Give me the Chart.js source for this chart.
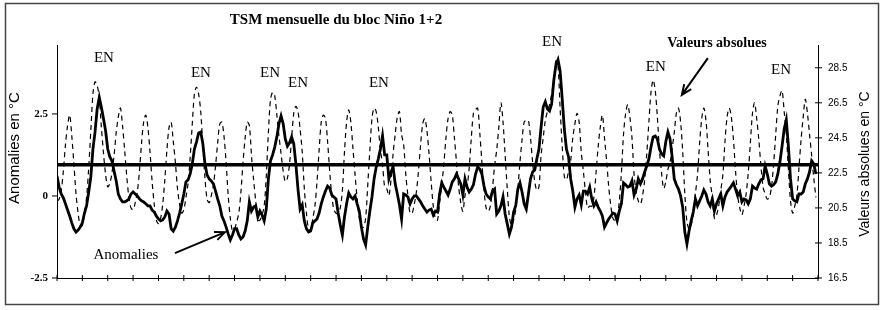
<!DOCTYPE html>
<html>
<head>
<meta charset="utf-8">
<script src="https://cdn.jsdelivr.net/npm/chart.js@4.4.0/dist/chart.umd.min.js"></script>
<style>
  html, body { margin: 0; padding: 0; background: #fff; }
  #wrap { position: relative; width: 882px; height: 310px; }
</style>
</head>
<body>
<div id="wrap"><canvas id="tsmChart" width="882" height="310"></canvas></div>
<script>
// Anomalies mensuelles (axe gauche, °C), 30 ans x 12 mois
const anomalies = [
  0.61,0.27,0.06,-0.06,-0.24,-0.43,-0.61,-0.82,-1.0,-1.1,-1.04,-0.95,
  -0.82,-0.52,-0.3,0.12,0.58,1.43,1.95,2.65,3.0,2.7,2.35,1.98,
  1.43,1.19,1.07,0.76,0.46,0.06,-0.09,-0.18,-0.18,-0.15,-0.09,0.06,
  0.12,0.06,0,-0.09,-0.15,-0.18,-0.24,-0.3,-0.3,-0.43,-0.49,-0.61,
  -0.7,-0.76,-0.73,-0.64,-0.46,-0.55,-1.0,-1.07,-0.95,-0.76,-0.52,-0.24,
  0.06,0.43,0.49,0.67,0.98,1.43,1.65,1.92,1.95,1.59,0.98,0.64,
  0.52,0.46,0.37,0.15,-0.09,-0.3,-0.61,-0.76,-0.95,-1.16,-1.34,-1.19,
  -1.0,-1.0,-1.19,-1.31,-1.25,-1.07,-0.76,-0.18,-0.46,-0.34,-0.3,-0.64,
  -0.46,-0.58,-0.76,-0.4,0.52,1.07,1.25,1.49,1.8,2.2,2.44,2.2,
  1.74,1.52,1.62,1.8,1.59,0.98,0.21,-0.4,-0.27,-0.76,-1.0,-1.1,
  -1.07,-0.82,-0.76,-0.7,-0.52,-0.24,-0.03,0.15,0.3,0.24,0.03,-0.03,
  -0.09,-0.52,-0.88,-1.19,-0.64,-0.24,0.09,-0.03,-0.09,0,-0.24,-0.46,
  -0.95,-1.31,-1.49,-0.95,-0.46,-0.03,0.52,0.88,1.13,1.43,1.83,1.25,
  1.25,0.52,0.73,0.88,0.37,0.06,-0.27,-0.7,0.06,0.03,-0.03,-0.24,
  -0.09,0,0,-0.09,-0.18,-0.3,-0.4,-0.49,-0.43,-0.4,-0.58,-0.46,
  -0.49,0.06,0.4,0.27,0.15,0.03,0.21,0.43,0.52,0.67,0.52,0.37,
  0.03,0.52,0.27,0.12,0.21,0.34,0.67,0.88,0.82,0.67,0.3,0.06,
  -0.03,-0.09,0.15,0.21,-0.55,-0.46,-0.3,-0.03,-0.55,-0.85,-1.16,-0.95,
  -0.49,-0.3,0.21,0.4,0.12,-0.24,-0.4,0.06,0.52,0.73,0.79,1.13,
  1.43,2.1,2.71,2.87,2.65,2.59,2.8,3.51,3.99,4.15,3.81,2.96,
  2.04,1.43,1.19,0.52,0.15,-0.34,-0.09,0.03,-0.27,0.15,0.15,0.06,
  0.27,-0.09,-0.3,-0.18,-0.34,-0.46,-0.61,-0.95,-0.82,-0.7,-0.61,-0.52,
  -0.55,-0.76,-0.46,-0.24,0.4,0.34,0.27,0.3,0.46,0.03,0.21,0.52,
  0.37,0.52,0.73,0.91,1.13,1.49,1.8,1.83,1.74,1.43,1.28,1.22,
  1.65,1.95,1.74,1.19,0.52,0.34,0.21,0,-0.34,-1.1,-1.46,-1.07,
  -0.76,-0.49,-0.09,-0.3,-0.15,0,0.18,0.06,-0.18,-0.3,-0.09,-0.46,
  -0.24,-0.09,0.06,-0.3,-0.03,0.12,0.21,0.3,0.4,0.21,0,0.12,
  -0.18,-0.09,-0.12,-0.24,-0.09,0.3,0.24,0.21,0.37,0.49,0.52,0.91,
  0.67,0.37,0.3,0.34,0.43,0.67,1.04,1.52,2.04,2.32,1.52,0.52,
  -0.09,-0.15,-0.18,0.06,0.06,0.12,0.37,0.52,0.73,1.07,0.98,0.67
];

// Valeurs absolues mensuelles (axe droit, °C)
const absolues = [
  20.9,21.0,21.5,22.6,24.1,25.2,25.8,24.6,23.0,21.3,20.2,19.5,
  19.5,20.2,21.1,22.8,24.9,27.0,27.7,27.5,26.8,25.1,23.6,22.4,
  21.7,21.9,22.5,23.5,24.8,25.7,26.2,25.2,23.8,22.3,21.1,20.5,
  20.4,20.8,21.4,22.6,24.2,25.4,25.8,25.1,23.7,22.0,20.7,19.8,
  19.6,19.9,20.7,22.1,23.8,25.1,25.4,24.3,23.1,21.6,20.7,20.2,
  20.4,21.1,21.9,23.4,25.3,27.0,27.4,27.0,26.0,24.0,22.2,21.0,
  20.8,21.2,21.8,22.9,24.2,25.3,25.4,24.6,23.1,21.2,19.9,19.2,
  19.3,19.7,20.2,21.4,23.1,24.5,25.4,25.2,23.5,22.1,20.9,19.8,
  19.8,20.1,20.6,22.3,24.8,26.7,27.1,26.9,25.8,24.6,23.6,22.6,
  22.0,22.2,23.0,24.5,25.9,26.3,26.0,25.0,23.7,21.6,20.2,19.3,
  19.2,19.9,20.6,22.0,23.8,25.4,25.8,25.6,24.3,22.6,21.2,20.4,
  20.2,20.2,20.5,21.5,23.7,25.4,26.1,25.4,23.9,22.4,21.0,19.9,
  19.4,19.4,19.9,21.8,23.8,25.6,26.2,26.0,25.1,23.8,23.0,21.7,
  21.6,21.2,22.1,23.6,24.7,25.7,26.0,24.7,24.1,22.4,21.2,20.2,
  20.2,20.7,21.4,22.6,24.1,25.3,25.6,24.9,23.6,22.0,20.6,19.9,
  19.8,20.8,21.8,23.0,24.5,25.6,26.0,25.8,24.5,23.1,21.7,20.8,
  20.3,21.2,21.7,22.8,24.5,25.9,26.1,26.2,24.8,23.1,21.5,20.5,
  20.3,20.6,21.6,22.9,23.8,25.1,26.5,25.4,23.5,21.6,20.0,19.5,
  19.8,20.4,21.6,23.1,24.4,25.4,25.5,25.5,24.5,23.1,22.0,21.5,
  21.7,23.5,24.5,25.5,26.0,26.4,27.0,27.8,28.9,28.6,26.2,24.0,
  22.3,22.1,22.6,23.2,24.5,25.3,25.9,25.4,23.7,22.6,21.4,20.5,
  20.6,20.6,21.1,22.5,24.0,25.1,25.8,24.5,23.2,21.7,20.6,19.9,
  19.8,19.9,20.9,22.5,24.7,25.9,26.4,25.7,24.5,22.4,21.4,20.9,
  20.7,21.2,22.1,23.6,25.4,27.1,27.8,27.2,25.7,23.8,22.5,21.6,
  22.0,22.7,23.1,23.9,24.8,25.9,26.2,25.4,23.7,21.3,19.7,19.3,
  19.5,20.2,21.3,22.4,24.2,25.6,26.2,25.5,23.8,22.1,21.1,19.9,
  20.1,20.6,21.5,22.4,24.3,25.7,26.2,25.7,24.4,22.6,21.2,20.5,
  20.1,20.6,21.3,22.5,24.2,25.9,26.5,25.6,24.4,22.9,21.7,21.3,
  21.0,21.1,21.7,23.0,24.7,26.3,26.9,27.2,26.0,24.7,22.7,20.9,
  20.2,20.6,21.2,22.8,24.4,25.7,26.7,25.9,24.7,23.5,22.2,21.1
];

const seuil = 0.95; // trait horizontal épais (axe gauche)
const leftTicks = [-2.5, 0, 2.5];
const rightTicks = [16.5, 18.5, 20.5, 22.5, 24.5, 26.5, 28.5];
const yearTicks = [0,12,24,36,48,60,72,84,96,108,120,132,144,156,168,180,
                   192,204,216,228,240,252,264,276,288,300,312,324,336,348,360];

// Étiquettes "EN" : [mois, valeur axe gauche]
const enLabels = [[22.2,4.2],[68.1,3.75],[100.8,3.75],[114,3.44],[152.3,3.44],
                  [234.2,4.69],[283.3,3.93],[342.5,3.84]];

const serif = '"Liberation Serif", "Times New Roman", serif';
const sans = '"Liberation Sans", Arial, sans-serif';

function arrow(ctx, x1, y1, x2, y2, w) {
    const a = Math.atan2(y2 - y1, x2 - x1);
    ctx.lineWidth = w;
    ctx.beginPath();
    ctx.moveTo(x1, y1);
    ctx.lineTo(x2, y2);
    ctx.moveTo(x2 - 11 * Math.cos(a - 0.4), y2 - 11 * Math.sin(a - 0.4));
    ctx.lineTo(x2, y2);
    ctx.lineTo(x2 - 11 * Math.cos(a + 0.4), y2 - 11 * Math.sin(a + 0.4));
    ctx.stroke();
}

const decor = {
    id: 'decor',
    afterDraw(chart) {
        const ctx = chart.ctx;
        const xs = chart.scales.x, ys = chart.scales.y, y2 = chart.scales.y2;
        const area = chart.chartArea;
        ctx.save();
        ctx.fillStyle = '#000';

        // cadre
        ctx.strokeStyle = '#444';
        ctx.lineWidth = 1.5;
        ctx.strokeRect(5.5, 3.5, 873, 301);
        ctx.strokeStyle = '#000';

        // graduations
        ctx.lineWidth = 1;
        yearTicks.forEach(t => {
            const px = xs.getPixelForValue(t);
            ctx.beginPath();
            ctx.moveTo(px, area.bottom - 3);
            ctx.lineTo(px, area.bottom + 3);
            ctx.stroke();
        });
        leftTicks.forEach(t => {
            const py = ys.getPixelForValue(t);
            ctx.beginPath();
            ctx.moveTo(area.left - 5, py);
            ctx.lineTo(area.left, py);
            ctx.stroke();
        });
        rightTicks.forEach(t => {
            const py = y2.getPixelForValue(t);
            ctx.beginPath();
            ctx.moveTo(area.right - 3, py);
            ctx.lineTo(area.right + 4, py);
            ctx.stroke();
        });

        // titre
        ctx.textAlign = 'center';
        ctx.textBaseline = 'middle';
        ctx.font = 'bold 15px ' + serif;
        ctx.fillText('TSM mensuelle du bloc Niño 1+2', 336, 20);

        // titres d'axes
        ctx.font = '15px ' + sans;
        ctx.save();
        ctx.translate(15, 148);
        ctx.rotate(-Math.PI / 2);
        ctx.fillText('Anomalies en °C', 0, 0);
        ctx.restore();
        ctx.font = '14px ' + sans;
        ctx.save();
        ctx.translate(865, 164);
        ctx.rotate(-Math.PI / 2);
        ctx.fillText('Valeurs absolues en °C', 0, 0);
        ctx.restore();

        // EN
        ctx.font = '15px ' + serif;
        enLabels.forEach(([m, v]) => {
            ctx.fillText('EN', xs.getPixelForValue(m), ys.getPixelForValue(v));
        });

        // annotations
        ctx.font = 'bold 14px ' + serif;
        ctx.fillText('Valeurs absolues', xs.getPixelForValue(312.2), ys.getPixelForValue(4.66));
        arrow(ctx, xs.getPixelForValue(307.9), ys.getPixelForValue(4.2),
              xs.getPixelForValue(295.6), ys.getPixelForValue(3.08), 2);

        ctx.font = '15px ' + serif;
        ctx.fillText('Anomalies', xs.getPixelForValue(32.6), ys.getPixelForValue(-1.8));
        arrow(ctx, xs.getPixelForValue(55.8), ys.getPixelForValue(-1.74),
              xs.getPixelForValue(79.5), ys.getPixelForValue(-1.1), 1.8);

        ctx.restore();
    }
};

const ctx = document.getElementById('tsmChart').getContext('2d');
new Chart(ctx, {
    type: 'line',
    data: {
        datasets: [
            {
                label: 'Anomalies',
                data: anomalies.map((v, i) => ({ x: i, y: v })),
                yAxisID: 'y',
                borderColor: '#000',
                borderWidth: 2.8,
                pointRadius: 0,
                tension: 0,
                order: 1
            },
            {
                label: 'Seuil',
                data: [{ x: 0, y: seuil }, { x: 360, y: seuil }],
                yAxisID: 'y',
                borderColor: '#000',
                borderWidth: 3.5,
                pointRadius: 0,
                order: 2
            },
            {
                label: 'Valeurs absolues',
                data: absolues.map((v, i) => ({ x: i, y: v })),
                yAxisID: 'y2',
                borderColor: '#000',
                borderWidth: 1.2,
                borderDash: [5, 4],
                pointRadius: 0,
                tension: 0.3,
                order: 3
            }
        ]
    },
    options: {
        responsive: false,
        animation: false,
        devicePixelRatio: 1,
        layout: { padding: { left: 0, right: 0, top: 45, bottom: 32 } },
        plugins: { legend: { display: false }, tooltip: { enabled: false } },
        scales: {
            x: {
                type: 'linear',
                min: 0,
                max: 360,
                ticks: { display: false },
                grid: { display: false, drawTicks: false },
                border: { display: true, color: '#000', width: 1 },
                afterFit: s => { s.height = 0; }
            },
            y: {
                position: 'left',
                min: -2.5,
                max: 4.6,
                afterBuildTicks: s => { s.ticks = leftTicks.map(v => ({ value: v })); },
                ticks: {
                    color: '#000',
                    padding: 9,
                    font: { family: serif, size: 11, weight: 'bold' },
                    callback: v => String(v)
                },
                grid: { display: false, drawTicks: false },
                border: { display: true, color: '#000', width: 1 },
                afterFit: s => { s.width = 57; }
            },
            y2: {
                position: 'right',
                min: 16.5,
                max: 29.8,
                afterBuildTicks: s => { s.ticks = rightTicks.map(v => ({ value: v })); },
                ticks: {
                    color: '#000',
                    padding: 10,
                    font: { family: sans, size: 10 },
                    callback: v => v.toFixed(1)
                },
                grid: { display: false, drawTicks: false },
                border: { display: true, color: '#000', width: 1, dash: [2, 2] },
                afterFit: s => { s.width = 64; }
            }
        }
    },
    plugins: [decor]
});
</script>
</body>
</html>
